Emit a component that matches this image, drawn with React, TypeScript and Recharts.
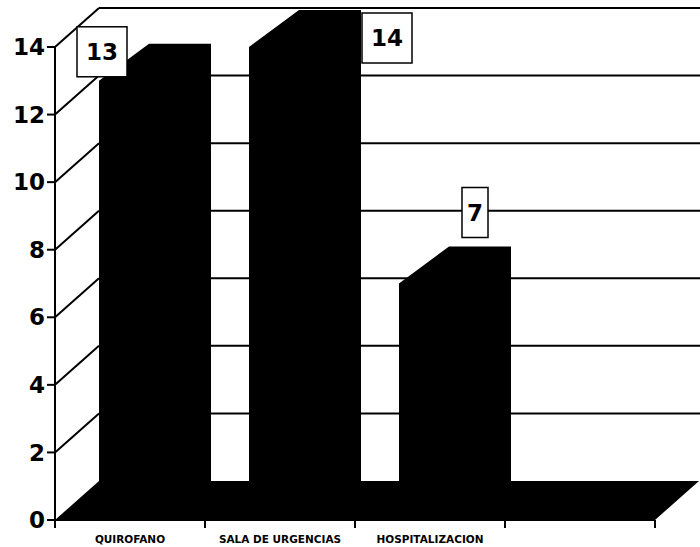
import React from 'react';
import { BarChart, Bar, XAxis, YAxis, CartesianGrid, LabelList } from 'recharts';

const categories = ['QUIROFANO', 'SALA  DE URGENCIAS', 'HOSPITALIZACION', ''];
const casos = [13, 14, 7, null];
const yTicks = [0, 2, 4, 6, 8, 10, 12, 14];

// desplazamiento de etiquetas (como en el original, cada una en otro sitio)
const labelShift = [
  { dx: 3, dy: -4 },
  { dx: 138, dy: 16 },
  { dx: 76, dy: -46 },
];

const data = categories.map((c, i) => ({ name: c, value: casos[i] }));

const W = 700;
const H = 547;
const DX = 44; // profundidad del piso / paredes
const DY = 39;
const BDX = 50; // profundidad de las barras
const BDY = 37;
const BAND = 150;
const FONT = '"DejaVu Sans", Verdana, sans-serif';

// lineas de la pared lateral + pared del fondo + piso negro
const renderWallLine = (props: any) => {
  const { x1, y1, x2, y2, y, height } = props;
  const bottom = y + height;
  const isFloor = Math.abs(y1 - bottom) < 1;
  if (isFloor) {
    return (
      <g key={props.key}>
        <polygon
          points={`${x1},${y1} ${x1 + DX},${y1 - DY} ${x2 + DX},${y2 - DY} ${x2},${y2}`}
          fill="#000"
        />
      </g>
    );
  }
  return (
    <g key={props.key}>
      <line x1={x1} y1={y1} x2={x1 + DX} y2={y1 - DY} stroke="#000" strokeWidth={2} />
      <line x1={x1 + DX} y1={y1 - DY} x2={W} y2={y1 - DY} stroke="#000" strokeWidth={2} />
    </g>
  );
};

const Bar3D = (props: any) => {
  const { x, y, width, height } = props;
  if (height == null || height <= 0) return null;
  const b = y + height;
  const pts = [
    [x, b],
    [x, y],
    [x + BDX, y - BDY],
    [x + width + BDX, y - BDY],
    [x + width + BDX, b - BDY],
    [x + width, b],
  ]
    .map((p) => p.join(','))
    .join(' ');
  return <polygon points={pts} fill="#000" />;
};

const ValueBox = (props: any) => {
  const { x, y, value, index } = props;
  if (value == null) return null;
  const s = labelShift[index] || { dx: 0, dy: -4 };
  const txt = String(value);
  const bw = txt.length > 1 ? 50 : 26;
  const bh = 50;
  const cx = x + s.dx;
  const by = y + s.dy;
  return (
    <g>
      <rect x={cx - bw / 2} y={by - bh} width={bw} height={bh} fill="#fff" stroke="#000" strokeWidth={1.5} />
      <text
        x={cx}
        y={by - bh / 2 + 8}
        textAnchor="middle"
        fontFamily={FONT}
        fontWeight="bold"
        fontSize={23}
        fill="#000"
      >
        {txt}
      </text>
    </g>
  );
};

const CatTick = (props: any) => {
  const { x, y, payload, index } = props;
  const last = index === categories.length - 1;
  return (
    <g>
      <line x1={x - BAND / 2} y1={y - 8} x2={x - BAND / 2} y2={y} stroke="#000" strokeWidth={2} />
      {last && <line x1={x + BAND / 2} y1={y - 8} x2={x + BAND / 2} y2={y} stroke="#000" strokeWidth={2} />}
      <text x={x} y={y + 15} textAnchor="middle" fontFamily={FONT} fontWeight="bold" fontSize={10.5} fill="#000">
        {payload.value}
      </text>
    </g>
  );
};

export default function App() {
  return (
    <div style={{ position: 'absolute', left: 0, top: 0, width: W, height: H, background: '#fff' }}>
      <BarChart
        width={W}
        height={H}
        data={data}
        margin={{ top: 47, right: 45, bottom: 0, left: 0 }}
        barCategoryGap={0}
      >
        <CartesianGrid horizontal={renderWallLine} vertical={false} />
        <XAxis
          dataKey="name"
          height={27}
          tickLine={false}
          axisLine={{ stroke: '#000', strokeWidth: 2 }}
          tick={<CatTick />}
          interval={0}
        />
        <YAxis
          width={55}
          domain={[0, 14]}
          ticks={yTicks}
          interval={0}
          tickSize={8}
          tickMargin={2}
          axisLine={{ stroke: '#000', strokeWidth: 2 }}
          tickLine={{ stroke: '#000', strokeWidth: 2 }}
          tick={{ fontSize: 23, fontWeight: 'bold', fill: '#000', fontFamily: FONT }}
        />
        <Bar dataKey="value" barSize={62} shape={<Bar3D />} isAnimationActive={false}>
          <LabelList dataKey="value" content={<ValueBox />} />
        </Bar>
      </BarChart>
    </div>
  );
}
